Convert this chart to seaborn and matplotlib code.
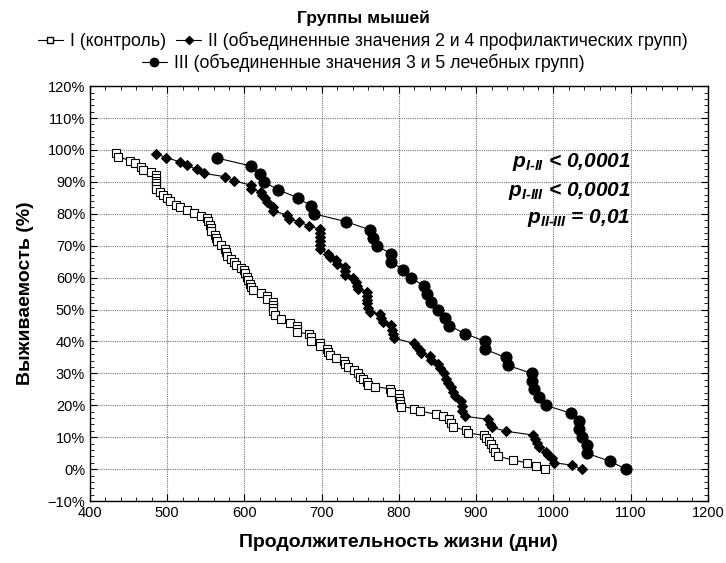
import seaborn as sns
import matplotlib
matplotlib.use("Agg")
import matplotlib.pyplot as plt
from matplotlib.ticker import MultipleLocator, AutoMinorLocator, PercentFormatter
from matplotlib.lines import Line2D

# Группа I (контроль)
x1 = [434, 436, 452, 458, 466, 468, 479, 485, 485, 485, 486, 486, 486, 491, 495, 500, 503, 511, 516, 526,
      534, 544, 552, 553, 555, 556, 557, 562, 563, 564, 570, 575, 576, 577, 582, 586, 589, 595, 599, 601,
      603, 605, 607, 609, 611, 622, 629, 629, 637, 637, 637, 637, 639, 647, 659, 668, 668, 668, 683, 686,
      686, 698, 698, 707, 708, 711, 719, 729, 730, 734, 742, 747, 749, 754, 758, 760, 769, 789, 790, 800,
      800, 801, 802, 803, 820, 827, 848, 857, 865, 867, 870, 887, 890, 910, 913, 916, 919, 922, 925, 928,
      948, 966, 978, 989]
y1 = [99.2, 97.9, 96.7, 95.8, 94.7, 93.7, 93.0, 92.2, 91.3, 90.4, 89.5, 88.6, 87.7, 86.9, 85.9, 84.9, 83.9, 82.9, 82.0, 81.2,
      80.3, 79.4, 78.6, 77.6, 76.6, 75.6, 74.6, 73.5, 72.5, 71.4, 70.2, 69.0, 67.9, 66.9, 65.9, 64.9, 63.9, 63.0, 62.4, 61.3,
      60.3, 59.2, 58.1, 57.0, 56.0, 55.1, 54.4, 53.3, 52.5, 51.5, 50.4, 49.4, 48.4, 47.0, 45.8, 45.0, 44.0, 43.0, 42.3, 41.3,
      40.3, 39.6, 38.7, 37.8, 36.8, 35.8, 34.8, 33.9, 32.9, 32.0, 31.0, 30.0, 29.0, 28.2, 27.2, 26.3, 25.8, 25.2, 24.2, 23.4,
      22.4, 21.4, 20.5, 19.6, 19.0, 18.2, 17.2, 16.5, 15.7, 14.4, 13.2, 12.2, 11.3, 10.6, 9.8, 8.9, 7.8, 6.6, 5.4, 4.1,
      2.8, 2.0, 1.1, 0.2]

# Группа II (профилактические)
x2 = [486, 499, 516, 526, 538, 547, 575, 587, 608, 608, 621, 623, 627, 629, 637, 637, 655, 658, 670, 684,
      698, 698, 698, 698, 698, 698, 708, 711, 719, 720, 730, 730, 730, 741, 744, 746, 747, 758, 759, 759,
      759, 760, 763, 775, 777, 779, 790, 791, 792, 794, 820, 824, 827, 828, 840, 842, 850, 853, 858, 861,
      864, 867, 870, 872, 880, 882, 882, 885, 915, 918, 920, 938, 973, 976, 979, 982, 990, 993, 998, 1001,
      1024, 1037]
y2 = [98.7, 97.6, 96.3, 95.2, 93.9, 92.7, 91.6, 90.3, 89.0, 87.8, 86.9, 85.9, 84.9, 83.8, 82.2, 81.0, 79.6, 78.4, 77.5, 76.2,
      75.1, 73.9, 72.7, 71.5, 70.3, 69.0, 67.4, 66.6, 65.5, 64.3, 63.2, 62.1, 60.8, 59.8, 58.7, 57.5, 56.3, 55.6, 54.3, 53.0,
      51.9, 50.4, 49.3, 48.6, 47.4, 46.2, 45.1, 43.6, 42.5, 41.0, 39.4, 38.2, 37.2, 36.4, 35.4, 34.2, 33.0, 31.6, 30.0, 28.4,
      26.9, 25.6, 24.2, 22.9, 21.4, 19.7, 18.3, 16.6, 15.6, 14.1, 13.1, 11.9, 10.7, 9.3, 8.2, 7.0, 5.4, 4.4, 3.4, 2.0,
      1.25, 0.0]

# Группа III (лечебные)
x3 = [564, 608, 620, 625, 644, 669, 686, 690, 732, 762, 766, 771, 790, 790, 805, 815, 832, 836, 842, 850,
      859, 865, 885, 912, 912, 938, 941, 972, 972, 975, 981, 990, 1023, 1033, 1033, 1037, 1043, 1043, 1073, 1094]
y3 = [97.5, 95.0, 92.5, 90.0, 87.5, 85.0, 82.5, 80.0, 77.5, 75.0, 72.5, 70.0, 67.5, 65.0, 62.5, 60.0, 57.5, 55.0, 52.5, 50.0,
      47.5, 45.0, 42.5, 40.0, 37.5, 35.0, 32.5, 30.0, 27.5, 25.0, 22.5, 20.0, 17.5, 15.0, 12.5, 10.0, 7.5, 5.0, 2.5, 0.0]

labels = ["I (контроль)",
          "II (объединенные значения 2 и 4 профилактических групп)",
          "III (объединенные значения 3 и 5 лечебных групп)"]

sns.set_style("ticks")
plt.rcParams["font.family"] = ["Liberation Sans", "DejaVu Sans"]
plt.rcParams["text.color"] = "black"
plt.rcParams["axes.labelcolor"] = "black"
plt.rcParams["xtick.color"] = "black"
plt.rcParams["ytick.color"] = "black"
plt.rcParams["mathtext.fontset"] = "custom"
plt.rcParams["mathtext.rm"] = "Liberation Sans:bold:italic"
plt.rcParams["mathtext.it"] = "Liberation Sans:bold:italic"

fig = plt.figure(figsize=(7.26, 5.63), dpi=100)
ax = fig.add_axes([0.124, 0.110, 0.851, 0.737])

kw = dict(estimator=None, sort=False, color="black", linewidth=0.8, ax=ax, legend=False)
sns.lineplot(x=x1, y=y1, marker="s", markersize=6, markerfacecolor="white",
             markeredgecolor="black", markeredgewidth=0.8, **kw)
sns.lineplot(x=x2, y=y2, marker="D", markersize=5, markerfacecolor="black",
             markeredgecolor="black", **kw)
sns.lineplot(x=x3, y=y3, marker="o", markersize=8, markerfacecolor="black",
             markeredgecolor="black", **kw)

ax.set_xlim(400, 1200)
ax.set_ylim(-10, 120)
ax.xaxis.set_major_locator(MultipleLocator(100))
ax.yaxis.set_major_locator(MultipleLocator(10))
ax.xaxis.set_minor_locator(AutoMinorLocator(5))
ax.yaxis.set_minor_locator(AutoMinorLocator(5))
ax.yaxis.set_major_formatter(PercentFormatter(decimals=0))
ax.tick_params(which="both", direction="in", top=True, right=True, labelsize=10.5, color="black")
ax.tick_params(which="major", length=5)
ax.tick_params(which="minor", length=3)
ax.grid(True, which="major", linestyle=(0, (1, 1)), color="#777777", linewidth=0.8)
for s in ax.spines.values():
    s.set_color("black")
    s.set_linewidth(1)

ax.set_xlabel("Продолжительность жизни (дни)", fontsize=14, fontweight="bold", labelpad=10)
ax.set_ylabel("Выживаемость (%)", fontsize=14, fontweight="bold", labelpad=10)

# p-значения
pk = dict(fontsize=15, ha="right", va="center", fontweight="bold", fontstyle="italic")
ax.text(1100, 96.3, r"$p_{I‐II}$ < 0,0001", **pk)
ax.text(1100, 87.3, r"$p_{I‐III}$ < 0,0001", **pk)
ax.text(1100, 78.8, r"$p_{II‐III}$ = 0,01", **pk)

fig.text(0.5, 0.967, "Группы мышей", ha="center", va="center", fontsize=12.5, fontweight="bold")

h1 = Line2D([], [], color="black", lw=0.8, marker="s", markersize=5, markerfacecolor="white")
h2 = Line2D([], [], color="black", lw=0.8, marker="D", markersize=4)
h3 = Line2D([], [], color="black", lw=0.8, marker="o", markersize=6)
lk = dict(frameon=False, fontsize=12.7, handlelength=1.4,
          handletextpad=0.4, borderaxespad=0, columnspacing=0.6)
fig.legend([h1, h2], labels[:2], loc="center", bbox_to_anchor=(0.5, 0.927), ncol=2, **lk)
fig.legend([h3], labels[2:], loc="center", bbox_to_anchor=(0.5, 0.888), **lk)

fig.savefig("out.png", dpi=100)
